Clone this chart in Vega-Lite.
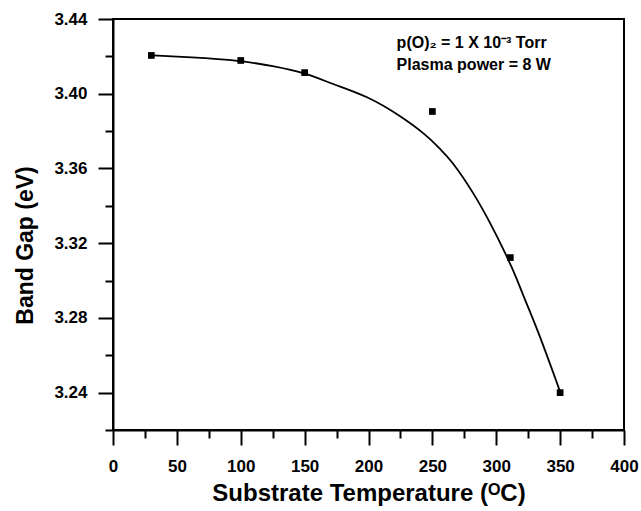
{
  "$schema": "https://vega.github.io/schema/vega-lite/v6.json",
  "autosize": "none",
  "width": 511,
  "height": 411,
  "padding": {"left": 113, "top": 19, "right": 17, "bottom": 81},
  "background": "white",
  "config": {
    "view": {"stroke": "black", "strokeWidth": 2},
    "font": "Liberation Sans",
    "axis": {
      "domainColor": "black", "domainWidth": 2, "tickColor": "black", "tickWidth": 2,
      "labelFont": "Liberation Sans", "labelFontWeight": "bold", "labelFontSize": 17, "labelColor": "black",
      "titleFont": "Liberation Sans", "titleFontWeight": "bold", "titleFontSize": 23, "titleColor": "black",
      "grid": false
    }
  },
  "datasets": {
    "points": [
      {"T": 30, "Eg": 3.4205},
      {"T": 100, "Eg": 3.4178},
      {"T": 150, "Eg": 3.4113},
      {"T": 250, "Eg": 3.3905},
      {"T": 311, "Eg": 3.3123},
      {"T": 350, "Eg": 3.2400}
    ],
    "curve": [
      {"T": 30, "Eg": 3.4205},
      {"T": 60, "Eg": 3.4196},
      {"T": 100, "Eg": 3.4178},
      {"T": 125, "Eg": 3.4148},
      {"T": 150, "Eg": 3.4113},
      {"T": 172, "Eg": 3.4051},
      {"T": 199, "Eg": 3.3988},
      {"T": 225, "Eg": 3.3882},
      {"T": 246, "Eg": 3.3775},
      {"T": 256, "Eg": 3.3704},
      {"T": 264, "Eg": 3.3651},
      {"T": 282, "Eg": 3.3473},
      {"T": 295, "Eg": 3.3313},
      {"T": 308, "Eg": 3.3135},
      {"T": 316, "Eg": 3.3011},
      {"T": 322, "Eg": 3.2904},
      {"T": 332, "Eg": 3.2744},
      {"T": 350, "Eg": 3.2405}
    ],
    "notes": [
      {"T": 222, "Eg": 3.4243, "label": "p(O)₂ = 1 X 10⁻³ Torr"},
      {"T": 222, "Eg": 3.4125, "label": "Plasma power = 8 W"}
    ]
  },
  "encoding": {
    "x": {
      "field": "T", "type": "quantitative",
      "scale": {"domain": [0, 400], "nice": false, "zero": false},
      "axis": {
        "title": "Substrate Temperature (ᴼC)",
        "titleFontSize": 24,
        "values": [0,25,50,75,100,125,150,175,200,225,250,275,300,325,350,375,400],
        "labelExpr": "datum.value % 50 === 0 ? datum.label : ''",
        "tickSize": {"condition": {"test": "datum.value % 50 === 0", "value": 15}, "value": 8},
        "labelPadding": 13,
        "titlePadding": 7,
        "labelFlush": false,
        "labelOverlap": false
      }
    },
    "y": {
      "field": "Eg", "type": "quantitative",
      "scale": {"domain": [3.22, 3.44], "nice": false, "zero": false},
      "axis": {
        "title": "Band Gap (eV)",
        "titleY": 226,
        "values": [3.22,3.24,3.26,3.28,3.30,3.32,3.34,3.36,3.38,3.40,3.42,3.44],
        "labelExpr": "round(datum.value*100) % 4 === 0 ? format(datum.value, '.2f') : ''",
        "tickSize": {"condition": {"test": "round(datum.value*100) % 4 === 0", "value": 15}, "value": 8},
        "labelPadding": 11,
        "titlePadding": 16,
        "labelFlush": false,
        "labelOverlap": false
      }
    }
  },
  "layer": [
    {
      "data": {"name": "curve"},
      "mark": {"type": "line", "interpolate": "basis", "color": "black", "strokeWidth": 1.8}
    },
    {
      "data": {"name": "points"},
      "mark": {"type": "point", "shape": "square", "filled": true, "color": "black", "size": 45, "opacity": 1}
    },
    {
      "data": {"name": "notes"},
      "mark": {"type": "text", "align": "left", "baseline": "alphabetic", "fontSize": 16, "fontWeight": "bold", "font": "Liberation Sans", "color": "black"},
      "encoding": {"text": {"field": "label"}}
    }
  ]
}
